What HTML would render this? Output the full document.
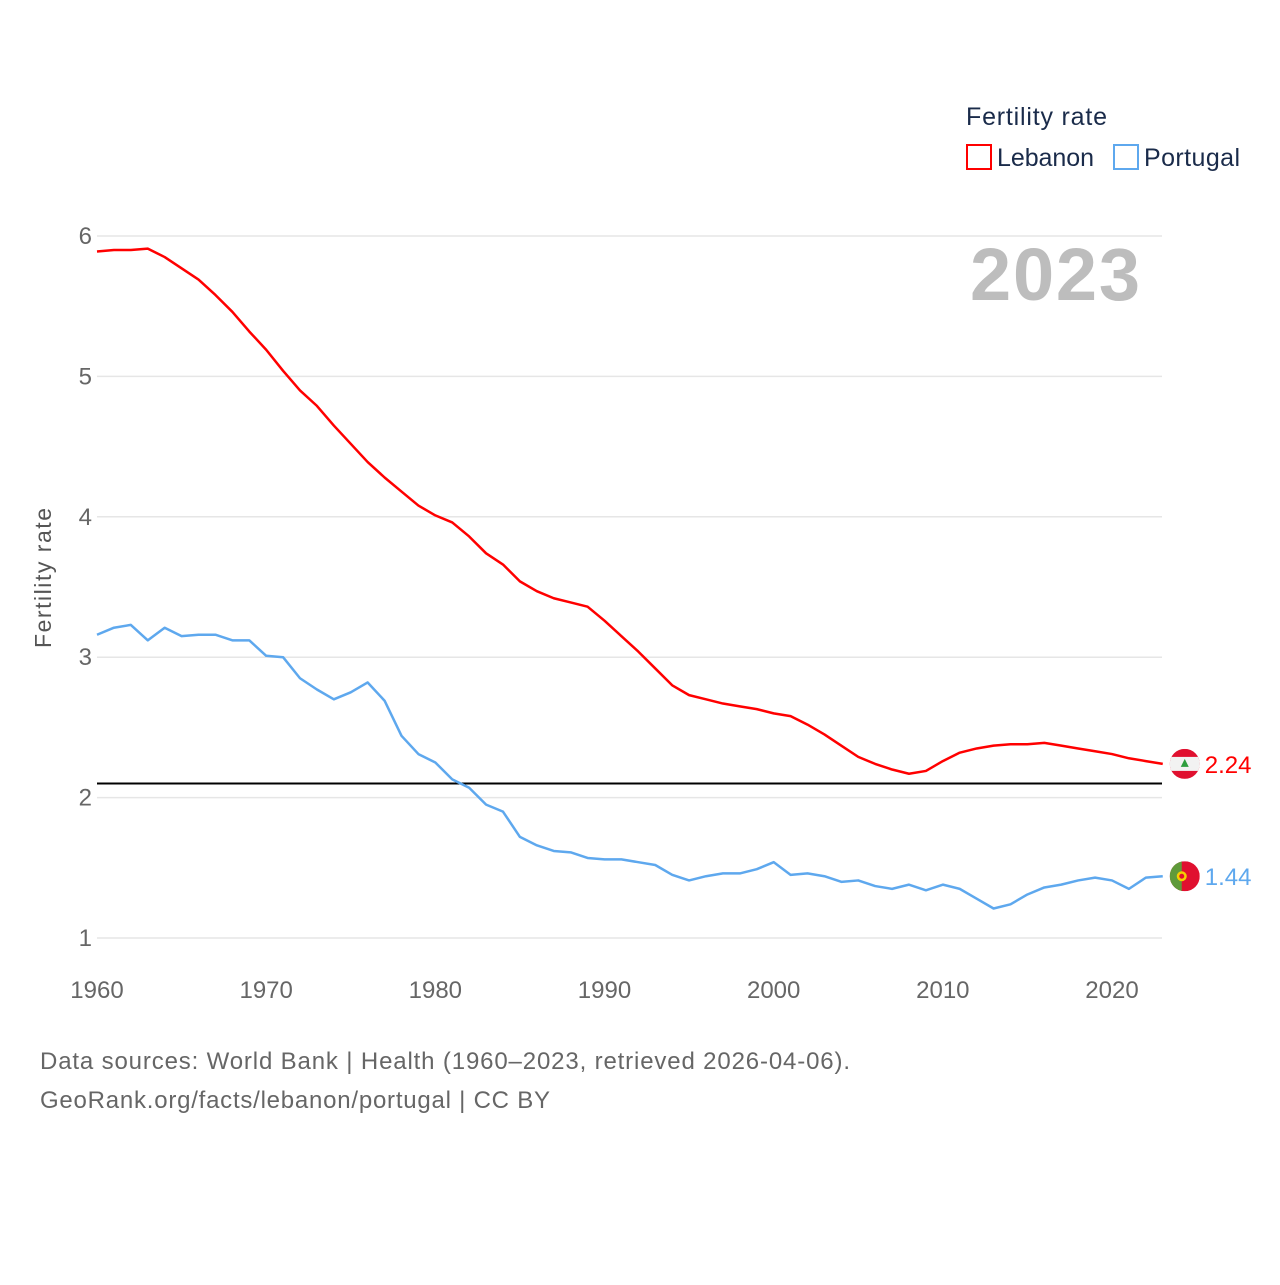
<!DOCTYPE html>
<html><head><meta charset="utf-8"><style>
body{margin:0;background:#fff;font-family:"Liberation Sans",sans-serif}
svg text{font-family:"Liberation Sans",sans-serif}
</style></head><body>
<svg id="chart" width="1280" height="1280" viewBox="0 0 1280 1280">
<text x="966" y="125" font-size="25" fill="#1a2b4a" textLength="141">Fertility rate</text>
<g><rect x="967" y="145" width="24" height="24" fill="none" stroke="#f00" stroke-width="2"/><text x="997" y="166" font-size="25" fill="#1a2b4a" textLength="97">Lebanon</text></g>
<g><rect x="1114" y="145" width="24" height="24" fill="none" stroke="#5ea8ee" stroke-width="2"/><text x="1144" y="166" font-size="25" fill="#1a2b4a" textLength="96">Portugal</text></g>
<text x="1140" y="300" font-size="74" font-weight="bold" fill="#bdbdbd" text-anchor="end" textLength="170">2023</text>
<text transform="translate(51,578) rotate(-90)" font-size="23" fill="#555" text-anchor="middle" textLength="140">Fertility rate</text>
<g id="grid"></g><g id="marks"></g>
<text x="40" y="1069" font-size="24" fill="#666" textLength="810">Data sources: World Bank | Health (1960–2023, retrieved 2026-04-06).</text>
<text x="40" y="1108" font-size="24" fill="#666" textLength="510">GeoRank.org/facts/lebanon/portugal | CC BY</text>
</svg>
<script>
const years=[];for(let y=1960;y<=2023;y++)years.push(y);
const lebanon=[5.89,5.90,5.90,5.91,5.85,5.77,5.69,5.58,5.46,5.32,5.19,5.04,4.90,4.79,4.65,4.52,4.39,4.28,4.18,4.08,4.01,3.96,3.86,3.74,3.66,3.54,3.47,3.42,3.39,3.36,3.26,3.15,3.04,2.92,2.80,2.73,2.70,2.67,2.65,2.63,2.60,2.58,2.52,2.45,2.37,2.29,2.24,2.20,2.17,2.19,2.26,2.32,2.35,2.37,2.38,2.38,2.39,2.37,2.35,2.33,2.31,2.28,2.26,2.24];
const portugal=[3.16,3.21,3.23,3.12,3.21,3.15,3.16,3.16,3.12,3.12,3.01,3.00,2.85,2.77,2.70,2.75,2.82,2.69,2.44,2.31,2.25,2.13,2.07,1.95,1.90,1.72,1.66,1.62,1.61,1.57,1.56,1.56,1.54,1.52,1.45,1.41,1.44,1.46,1.46,1.49,1.54,1.45,1.46,1.44,1.40,1.41,1.37,1.35,1.38,1.34,1.38,1.35,1.28,1.21,1.24,1.31,1.36,1.38,1.41,1.43,1.41,1.35,1.43,1.44];
const yTicks=[1,2,3,4,5,6];
const xTicks=[1960,1970,1980,1990,2000,2010,2020];
const replacement=2.1;
const NS="http://www.w3.org/2000/svg";
const X=y=>97+(y-1960)*(1112-97)/60;
const Y=v=>938-(v-1)*140.4;
function mk(tag,attrs,parent,txt){const e=document.createElementNS(NS,tag);for(const k in attrs)e.setAttribute(k,attrs[k]);if(txt!==undefined)e.textContent=txt;parent.appendChild(e);return e;}
const grid=document.getElementById('grid'),marks=document.getElementById('marks');
yTicks.forEach(t=>{
 const l=mk('line',{x1:97,x2:1162,y1:Y(t),y2:Y(t),stroke:'#e6e6e6','stroke-width':1.5},grid);
 
 
 const tx=mk('text',{x:92,y:Y(t)+8,'font-size':24,fill:'#666','text-anchor':'end'},grid,String(t));
 
 
});
xTicks.forEach(t=>{
 const tx=mk('text',{x:X(t),y:998,'font-size':24,fill:'#666','text-anchor':'middle'},grid,String(t));
 
 
});
const ref=mk('line',{x1:97,x2:1162,y1:Y(replacement),y2:Y(replacement),stroke:'#000','stroke-width':2},marks);


function series(vals,color,name){
 const p=mk('polyline',{points:vals.map((v,i)=>X(years[i])+','+Y(v)).join(' '),fill:'none',stroke:color,'stroke-width':2.5,'stroke-linejoin':'round'},marks);
 
 
}
series(portugal,'#5ea8ee','portugal');
series(lebanon,'#f00','lebanon');
const lx=X(2023)+22;
const lv=lebanon[lebanon.length-1],ly=Y(lv);
const fl=mk('g',{},marks);


const cl=mk('clipPath',{id:'c1'},fl);mk('circle',{cx:lx,cy:ly,r:15},cl);
const g1=mk('g',{'clip-path':'url(#c1)'},fl);
mk('rect',{x:lx-15,y:ly-15,width:30,height:30,fill:'#e0102f'},g1);
mk('rect',{x:lx-15,y:ly-7,width:30,height:14,fill:'#f2f2f2'},g1);
mk('polygon',{points:`${lx},${ly-5} ${lx-4},${ly+3} ${lx+4},${ly+3}`,fill:'#2e9e3e'},g1);
const lt=mk('text',{x:lx+20,y:ly+9,'font-size':24,fill:'#f00'},marks,lv.toFixed(2));


const pv=portugal[portugal.length-1],py=Y(pv);
const fp=mk('g',{},marks);


const cp=mk('clipPath',{id:'c2'},fp);mk('circle',{cx:lx,cy:py,r:15},cp);
const g2=mk('g',{'clip-path':'url(#c2)'},fp);
mk('rect',{x:lx-15,y:py-15,width:30,height:30,fill:'#e0102f'},g2);
mk('rect',{x:lx-15,y:py-15,width:12,height:30,fill:'#5f9a3a'},g2);
mk('circle',{cx:lx-3,cy:py,r:5,fill:'#f5d000'},g2);
mk('circle',{cx:lx-3,cy:py,r:2.5,fill:'#e0102f'},g2);
const pt=mk('text',{x:lx+20,y:py+9,'font-size':24,fill:'#5ea8ee'},marks,pv.toFixed(2));


</script>
</body></html>
